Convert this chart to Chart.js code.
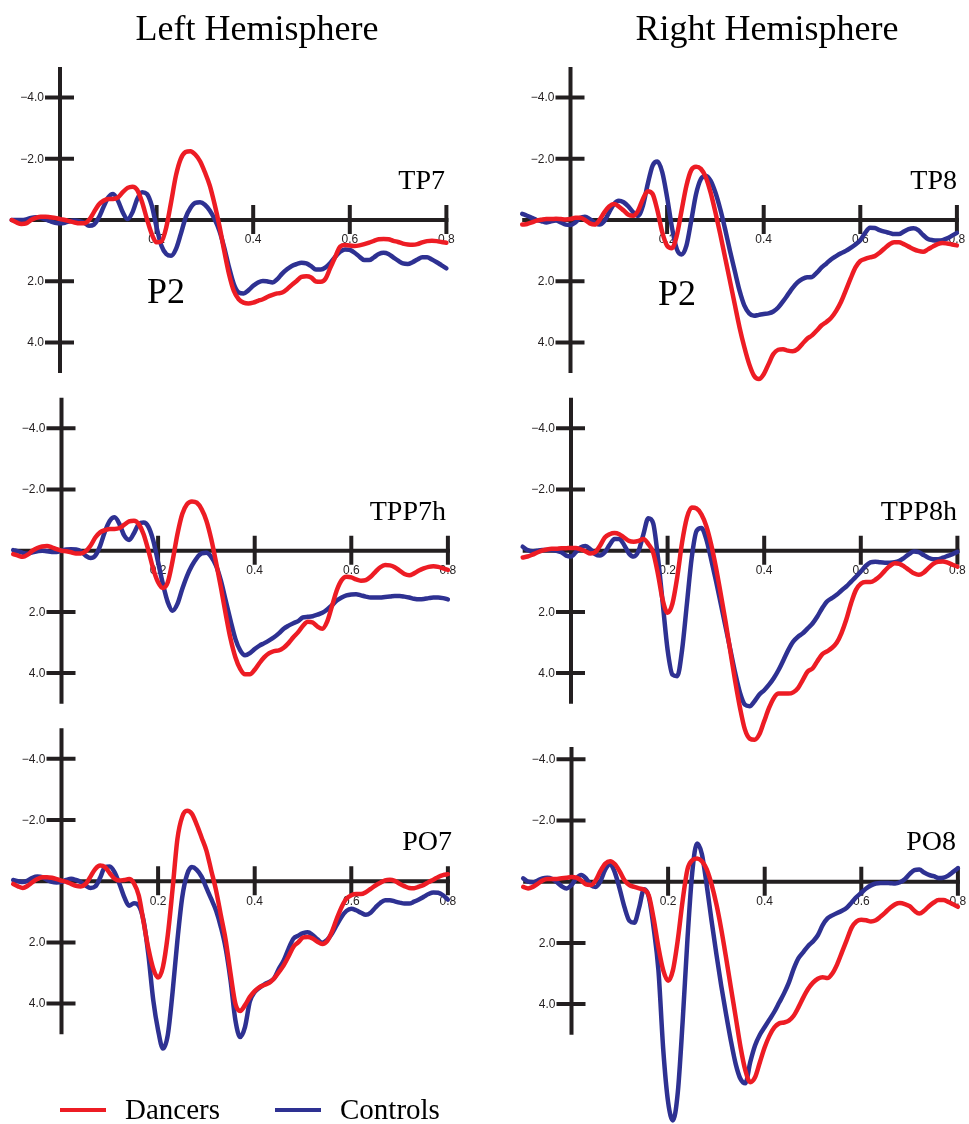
<!DOCTYPE html>
<html>
<head>
<meta charset="utf-8">
<title>ERP waveforms</title>
<script src="https://cdn.jsdelivr.net/npm/chart.js@4.4.0/dist/chart.umd.min.js"></script>
<style>
  html, body { margin: 0; padding: 0; background: #fff; overflow: hidden; }
  #fig { position: relative; width: 969px; height: 1124px; }
  #fig canvas { position: absolute; left: 0; top: 0; }
  .txt { position: absolute; font-family: "Liberation Serif", "Times New Roman", serif; color: #000; white-space: nowrap; line-height: 1; }
  .title { font-size: 36px; transform: translateX(-50%); }
  .chan { font-size: 28px; text-align: right; }
  .peak { font-size: 36px; }
  .leg { font-size: 29px; }
  .swatch { position: absolute; height: 4px; width: 46px; }
</style>
</head>
<body>
<div id="fig">
  <canvas id="c1" width="969" height="1124"></canvas>
  <canvas id="c2" width="969" height="1124"></canvas>
  <canvas id="c3" width="969" height="1124"></canvas>
  <canvas id="c4" width="969" height="1124"></canvas>
  <canvas id="c5" width="969" height="1124"></canvas>
  <canvas id="c6" width="969" height="1124"></canvas>

  <div class="txt title" style="left:257px; top:10px;">Left Hemisphere</div>
  <div class="txt title" style="left:767px; top:10px;">Right Hemisphere</div>

  <div class="txt chan" style="right:524px; top:166px;">TP7</div>
  <div class="txt chan" style="right:12px; top:166px;">TP8</div>
  <div class="txt chan" style="right:523px; top:497px;">TPP7h</div>
  <div class="txt chan" style="right:12px; top:497px;">TPP8h</div>
  <div class="txt chan" style="right:517px; top:827px;">PO7</div>
  <div class="txt chan" style="right:13px; top:827px;">PO8</div>

  <div class="txt peak" style="left:147px; top:273px;">P2</div>
  <div class="txt peak" style="left:658px; top:275px;">P2</div>

  <div class="swatch" style="left:60px; top:1108px; background:#ed1c24;"></div>
  <div class="txt leg" style="left:125px; top:1095px;">Dancers</div>
  <div class="swatch" style="left:275px; top:1108px; background:#2e3192;"></div>
  <div class="txt leg" style="left:340px; top:1095px;">Controls</div>
</div>

<script>
// time axis in seconds, -0.1 .. 0.8, one sample every 10 ms
const times = [];
for (let i = 0; i <= 90; i++) times.push(Math.round((i * 0.01 - 0.1) * 100) / 100);

const xTicks = [0.2, 0.4, 0.6, 0.8];
const yTicks = [-4, -2, 2, 4];
const yTickLabels = ["\u22124.0", "\u22122.0", "2.0", "4.0"];

// amplitudes in microvolts (negative plotted up)
const tp7Dancers = [
  0.00, 0.08, 0.13, 0.11, 0.00, -0.07, -0.11, -0.11, -0.09, -0.07,
  -0.03, 0.00, 0.04, 0.08, 0.11, 0.11, 0.00, -0.25, -0.50, -0.63,
  -0.69, -0.69, -0.74, -0.91, -1.05, -1.09, -0.98, -0.58, -0.03, 0.46,
  0.73, 0.70, 0.24, -0.58, -1.45, -2.00, -2.22, -2.25, -2.14, -1.92,
  -1.56, -1.13, -0.52, 0.19, 1.01, 1.77, 2.32, 2.59, 2.70, 2.73,
  2.70, 2.64, 2.59, 2.51, 2.45, 2.40, 2.37, 2.26, 2.12, 1.99,
  1.86, 1.84, 1.88, 2.01, 2.02, 1.91, 1.55, 1.20, 0.87, 0.82,
  0.83, 0.85, 0.83, 0.79, 0.74, 0.68, 0.63, 0.62, 0.63, 0.68,
  0.72, 0.77, 0.80, 0.81, 0.79, 0.73, 0.69, 0.68, 0.69, 0.72,
  0.74
];
const tp7Controls = [
  0.00, 0.00, 0.00, -0.02, -0.07, -0.09, -0.07, -0.02, 0.04, 0.09,
  0.11, 0.09, 0.04, 0.02, 0.04, 0.09, 0.19, 0.15, -0.07, -0.42,
  -0.74, -0.85, -0.63, -0.25, -0.03, -0.25, -0.69, -0.91, -0.85, -0.47,
  0.24, 0.84, 1.11, 1.17, 0.95, 0.46, -0.07, -0.39, -0.56, -0.58,
  -0.50, -0.31, -0.03, 0.35, 0.90, 1.55, 2.10, 2.37, 2.40, 2.30,
  2.15, 2.04, 1.99, 2.01, 2.04, 1.93, 1.75, 1.61, 1.50, 1.44,
  1.40, 1.42, 1.51, 1.62, 1.62, 1.55, 1.40, 1.20, 1.04, 0.96,
  0.98, 1.07, 1.20, 1.31, 1.31, 1.22, 1.11, 1.07, 1.11, 1.22,
  1.33, 1.42, 1.44, 1.38, 1.29, 1.22, 1.22, 1.29, 1.38, 1.48,
  1.58
];
const tp8Dancers = [
  0.15, 0.13, 0.08, 0.02, -0.01, -0.03, -0.03, -0.04, -0.03, -0.02,
  -0.03, -0.07, -0.07, 0.00, 0.11, 0.15, 0.00, -0.25, -0.44, -0.52,
  -0.44, -0.31, -0.17, -0.14, -0.31, -0.69, -0.94, -0.85, -0.31, 0.40,
  0.84, 0.92, 0.51, -0.31, -1.12, -1.63, -1.74, -1.67, -1.40, -0.90,
  -0.25, 0.46, 1.22, 1.98, 2.75, 3.51, 4.16, 4.71, 5.09, 5.20,
  5.04, 4.71, 4.38, 4.24, 4.22, 4.27, 4.29, 4.22, 4.05, 3.88,
  3.77, 3.61, 3.44, 3.33, 3.19, 2.97, 2.68, 2.30, 1.91, 1.55,
  1.34, 1.27, 1.22, 1.18, 1.07, 0.93, 0.80, 0.73, 0.73, 0.79,
  0.87, 0.95, 1.01, 1.04, 0.96, 0.87, 0.79, 0.75, 0.77, 0.80,
  0.83
];
const tp8Controls = [
  -0.20, -0.14, -0.07, 0.00, 0.04, 0.08, 0.04, 0.02, 0.08, 0.15,
  0.16, 0.08, -0.07, -0.11, -0.03, 0.08, 0.15, 0.04, -0.25, -0.52,
  -0.63, -0.58, -0.44, -0.25, -0.14, -0.47, -1.18, -1.78, -1.91, -1.56,
  -0.74, 0.24, 0.95, 1.13, 0.84, 0.02, -0.85, -1.34, -1.45, -1.29,
  -0.90, -0.36, 0.29, 1.00, 1.66, 2.31, 2.80, 3.05, 3.13, 3.10,
  3.07, 3.05, 2.99, 2.86, 2.66, 2.44, 2.22, 2.04, 1.93, 1.87,
  1.86, 1.72, 1.55, 1.42, 1.28, 1.18, 1.09, 1.01, 0.91, 0.80,
  0.66, 0.42, 0.25, 0.26, 0.33, 0.38, 0.42, 0.46, 0.46, 0.38,
  0.30, 0.27, 0.33, 0.49, 0.62, 0.66, 0.67, 0.66, 0.60, 0.51,
  0.42
];
const tpp7hDancers = [
  0.11, 0.16, 0.20, 0.13, 0.00, -0.09, -0.14, -0.15, -0.11, -0.05,
  0.00, 0.02, 0.05, 0.09, 0.09, 0.02, -0.16, -0.43, -0.60, -0.67,
  -0.71, -0.71, -0.74, -0.85, -0.96, -0.98, -0.87, -0.54, 0.00, 0.60,
  1.03, 1.22, 1.03, 0.33, -0.54, -1.20, -1.52, -1.61, -1.57, -1.36,
  -0.98, -0.38, 0.38, 1.20, 2.07, 2.88, 3.48, 3.86, 4.04, 4.04,
  3.89, 3.67, 3.48, 3.35, 3.28, 3.26, 3.17, 3.02, 2.83, 2.66,
  2.45, 2.32, 2.35, 2.48, 2.55, 2.32, 1.81, 1.29, 0.96, 0.85,
  0.87, 0.94, 0.98, 0.96, 0.85, 0.69, 0.54, 0.47, 0.48, 0.54,
  0.65, 0.76, 0.80, 0.74, 0.65, 0.58, 0.53, 0.51, 0.53, 0.58,
  0.63
];
const tpp7hControls = [
  -0.02, 0.02, 0.07, 0.09, 0.05, 0.02, 0.00, 0.02, 0.04, 0.04,
  0.00, -0.04, -0.05, -0.04, 0.02, 0.16, 0.24, 0.16, -0.16, -0.63,
  -0.98, -1.09, -0.87, -0.49, -0.35, -0.57, -0.87, -0.92, -0.78, -0.33,
  0.38, 1.09, 1.68, 1.96, 1.74, 1.25, 0.82, 0.49, 0.24, 0.09,
  0.07, 0.20, 0.49, 0.98, 1.63, 2.28, 2.88, 3.26, 3.42, 3.35,
  3.21, 3.10, 3.02, 2.93, 2.83, 2.70, 2.55, 2.45, 2.37, 2.30,
  2.18, 2.16, 2.14, 2.09, 2.03, 1.92, 1.78, 1.63, 1.53, 1.46,
  1.43, 1.42, 1.46, 1.50, 1.53, 1.53, 1.53, 1.51, 1.50, 1.48,
  1.48, 1.50, 1.53, 1.57, 1.59, 1.58, 1.55, 1.53, 1.53, 1.55,
  1.59
];
const tpp8hDancers = [
  0.22, 0.19, 0.13, 0.06, 0.00, -0.04, -0.06, -0.06, -0.08, -0.08,
  -0.09, -0.09, -0.04, 0.02, 0.09, 0.05, -0.16, -0.43, -0.54, -0.58,
  -0.54, -0.43, -0.32, -0.29, -0.32, -0.38, -0.22, 0.05, 0.76, 1.62,
  2.03, 1.73, 0.86, -0.27, -1.08, -1.41, -1.38, -1.19, -0.81, -0.22,
  0.54, 1.41, 2.32, 3.30, 4.27, 5.14, 5.84, 6.14, 6.18, 6.00,
  5.57, 5.14, 4.81, 4.67, 4.67, 4.67, 4.63, 4.49, 4.22, 3.95,
  3.85, 3.61, 3.39, 3.29, 3.18, 3.01, 2.69, 2.25, 1.71, 1.28,
  1.08, 1.02, 1.02, 0.95, 0.82, 0.65, 0.50, 0.41, 0.43, 0.52,
  0.63, 0.74, 0.79, 0.72, 0.57, 0.43, 0.36, 0.35, 0.39, 0.46,
  0.52
];
const tpp8hControls = [
  -0.13, -0.02, 0.02, 0.00, -0.02, -0.02, -0.02, 0.00, 0.05, 0.16,
  0.19, 0.05, -0.11, -0.15, -0.05, 0.11, 0.16, 0.05, -0.19, -0.38,
  -0.38, -0.19, 0.09, 0.19, 0.00, -0.54, -1.06, -0.90, 0.22, 1.73,
  3.24, 4.05, 4.10, 3.24, 1.73, 0.22, -0.65, -0.74, -0.38, 0.27,
  0.97, 1.73, 2.49, 3.24, 4.00, 4.65, 5.03, 5.08, 4.92, 4.70,
  4.56, 4.38, 4.16, 3.89, 3.57, 3.24, 2.97, 2.81, 2.70, 2.54,
  2.38, 2.15, 1.88, 1.66, 1.55, 1.44, 1.30, 1.17, 1.01, 0.85,
  0.68, 0.50, 0.38, 0.36, 0.38, 0.39, 0.39, 0.38, 0.33, 0.23,
  0.11, 0.03, 0.05, 0.14, 0.23, 0.28, 0.28, 0.23, 0.17, 0.11,
  0.04
];
const po7Dancers = [
  0.09, 0.17, 0.22, 0.15, 0.03, -0.07, -0.13, -0.13, -0.11, -0.07,
  -0.02, 0.02, 0.09, 0.15, 0.17, 0.09, -0.15, -0.40, -0.51, -0.46,
  -0.26, -0.08, -0.02, -0.04, -0.07, 0.07, 0.47, 1.34, 2.21, 2.86,
  3.15, 2.80, 1.77, 0.25, -1.38, -2.11, -2.30, -2.20, -1.85, -1.43,
  -1.00, -0.35, 0.30, 1.12, 1.93, 3.02, 4.00, 4.24, 4.05, 3.78,
  3.59, 3.46, 3.39, 3.32, 3.18, 2.97, 2.75, 2.46, 2.15, 2.00,
  1.84, 1.82, 1.87, 1.98, 2.05, 1.96, 1.65, 1.22, 0.84, 0.57,
  0.46, 0.42, 0.42, 0.36, 0.25, 0.14, 0.05, -0.03, -0.05, -0.01,
  0.08, 0.16, 0.22, 0.23, 0.18, 0.12, 0.03, -0.05, -0.14, -0.20,
  -0.23
];
const po7Controls = [
  -0.04, 0.00, 0.03, -0.02, -0.11, -0.15, -0.13, -0.04, 0.02, 0.04,
  0.02, -0.04, -0.08, -0.04, 0.03, 0.14, 0.22, 0.17, -0.11, -0.46,
  -0.48, -0.29, 0.09, 0.52, 0.80, 0.72, 0.80, 1.30, 2.42, 3.89,
  4.87, 5.47, 5.03, 3.62, 1.93, 0.52, -0.22, -0.46, -0.37, -0.15,
  0.22, 0.58, 0.96, 1.50, 2.20, 3.24, 4.54, 5.09, 4.76, 3.93,
  3.62, 3.48, 3.37, 3.29, 3.18, 2.86, 2.59, 2.21, 1.88, 1.78,
  1.70, 1.67, 1.76, 1.90, 2.01, 1.92, 1.71, 1.43, 1.16, 0.97,
  0.90, 0.95, 1.03, 1.10, 1.03, 0.86, 0.71, 0.62, 0.62, 0.66,
  0.70, 0.73, 0.73, 0.67, 0.60, 0.51, 0.42, 0.37, 0.38, 0.46,
  0.60
];
const po8Dancers = [
  0.17, 0.22, 0.17, 0.07, -0.04, -0.09, -0.09, -0.09, -0.11, -0.13,
  -0.15, -0.13, -0.04, 0.09, 0.11, -0.04, -0.35, -0.59, -0.67, -0.57,
  -0.33, -0.04, 0.11, 0.17, 0.22, 0.26, 0.45, 1.20, 2.15, 2.90,
  3.24, 2.89, 1.91, 0.63, -0.40, -0.70, -0.76, -0.67, -0.40, 0.09,
  0.74, 1.55, 2.48, 3.46, 4.43, 5.41, 6.17, 6.55, 6.39, 5.90,
  5.41, 5.03, 4.76, 4.63, 4.60, 4.54, 4.38, 4.10, 3.78, 3.50,
  3.30, 3.17, 3.12, 3.15, 3.00, 2.70, 2.30, 1.90, 1.50, 1.30,
  1.24, 1.26, 1.30, 1.26, 1.14, 1.00, 0.85, 0.74, 0.70, 0.73,
  0.80, 0.95, 1.04, 0.95, 0.80, 0.68, 0.60, 0.60, 0.66, 0.74,
  0.82
];
const po8Controls = [
  -0.11, 0.00, 0.02, -0.04, -0.11, -0.13, -0.09, 0.02, 0.15, 0.22,
  0.11, -0.11, -0.22, -0.11, 0.11, 0.17, -0.02, -0.40, -0.57, -0.29,
  0.25, 0.85, 1.28, 1.34, 0.85, 0.25, 0.50, 1.50, 2.90, 5.50,
  7.20, 7.80, 6.90, 4.60, 1.90, -0.30, -1.25, -0.90, 0.12, 1.28,
  2.37, 3.40, 4.33, 5.20, 5.96, 6.45, 6.59, 5.90, 5.35, 5.00,
  4.75, 4.50, 4.25, 3.95, 3.65, 3.30, 2.85, 2.50, 2.30, 2.10,
  1.95, 1.75, 1.42, 1.20, 1.10, 1.02, 0.95, 0.85, 0.68, 0.50,
  0.36, 0.22, 0.12, 0.06, 0.04, 0.04, 0.05, 0.06, 0.02, -0.08,
  -0.25, -0.38, -0.40, -0.30, -0.22, -0.18, -0.12, -0.13, -0.20, -0.32,
  -0.44
];

const RED = "#ed1c24";
const BLUE = "#2e3192";
const INK = "#231f20";

// where each panel sits on the page: pixel of the y axis (x = 0) and of the zero line
const panels = [
  { id: "c1", x0: 60, zero: 220, dancers: tp7Dancers, controls: tp7Controls, yTop: -5 },
  { id: "c2", x0: 570.5, zero: 220, dancers: tp8Dancers, controls: tp8Controls, yTop: -5 },
  { id: "c3", x0: 61.5, zero: 550.7, dancers: tpp7hDancers, controls: tpp7hControls, yTop: -5 },
  { id: "c4", x0: 571, zero: 550.7, dancers: tpp8hDancers, controls: tpp8hControls, yTop: -5 },
  { id: "c5", x0: 61.5, zero: 881.2, dancers: po7Dancers, controls: po7Controls, yTop: -5 },
  { id: "c6", x0: 571.5, zero: 881.7, dancers: po8Dancers, controls: po8Controls, yTop: -4.4 }
];

const PX_PER_TENTH = 48.3;   // 0.1 s
const PX_PER_UV = 30.6;

// axes crossing at zero, with ticks through the line
const erpAxes = {
  id: "erpAxes",
  beforeDatasetsDraw: function(chart, args, opts) {
    const ctx = chart.ctx;
    const x = chart.scales.x;
    const y = chart.scales.y;
    const x0 = x.getPixelForValue(0);
    const y0 = y.getPixelForValue(0);

    ctx.save();
    ctx.strokeStyle = INK;
    ctx.lineWidth = 4;
    ctx.lineCap = "butt";

    ctx.beginPath();
    ctx.moveTo(x0, y.getPixelForValue(opts.yTop));
    ctx.lineTo(x0, y.getPixelForValue(5));
    ctx.moveTo(x.getPixelForValue(-0.1), y0);
    ctx.lineTo(x.getPixelForValue(0.8) + 2, y0);
    ctx.stroke();

    ctx.beginPath();
    yTicks.forEach(function(v) {
      const py = y.getPixelForValue(v);
      ctx.moveTo(x0 - 15, py);
      ctx.lineTo(x0 + 14, py);
    });
    xTicks.forEach(function(v) {
      const px = x.getPixelForValue(v);
      ctx.moveTo(px, y0 - 15);
      ctx.lineTo(px, y0 + 14);
    });
    ctx.stroke();

    ctx.fillStyle = INK;
    ctx.font = '12px "Liberation Sans", Arial, sans-serif';
    ctx.textAlign = "right";
    ctx.textBaseline = "middle";
    yTicks.forEach(function(v, i) {
      ctx.fillText(yTickLabels[i], x0 - 16, y.getPixelForValue(v) + 0.5);
    });
    ctx.textAlign = "center";
    xTicks.forEach(function(v) {
      ctx.fillText(v.toFixed(1), x.getPixelForValue(v), y0 + 20);
    });
    ctx.restore();
  }
};

function toPoints(values) {
  return values.map(function(v, i) { return { x: times[i], y: v }; });
}

function buildPanel(p) {
  const left = p.x0 - PX_PER_TENTH;
  const right = p.x0 + 8 * PX_PER_TENTH;
  const top = p.zero - 5 * PX_PER_UV;
  const bottom = p.zero + 5 * PX_PER_UV;

  new Chart(document.getElementById(p.id), {
    type: "line",
    data: {
      datasets: [
        { label: "Dancers", data: toPoints(p.dancers), borderColor: RED, clip: false },
        { label: "Controls", data: toPoints(p.controls), borderColor: BLUE, clip: false }
      ]
    },
    options: {
      responsive: false,
      animation: false,
      devicePixelRatio: 1,
      events: [],
      layout: { padding: { left: left, right: 969 - right, top: top, bottom: 1124 - bottom } },
      scales: {
        x: { type: "linear", min: -0.1, max: 0.8, display: false },
        y: { type: "linear", min: -5, max: 5, reverse: true, display: false }
      },
      elements: {
        point: { radius: 0 },
        line: { borderWidth: 4.5, fill: false, cubicInterpolationMode: "monotone", borderCapStyle: "round", borderJoinStyle: "round" }
      },
      plugins: {
        legend: { display: false },
        tooltip: { enabled: false },
        erpAxes: { yTop: p.yTop }
      }
    },
    plugins: [erpAxes]
  });
}

panels.forEach(buildPanel);
</script>
</body>
</html>
